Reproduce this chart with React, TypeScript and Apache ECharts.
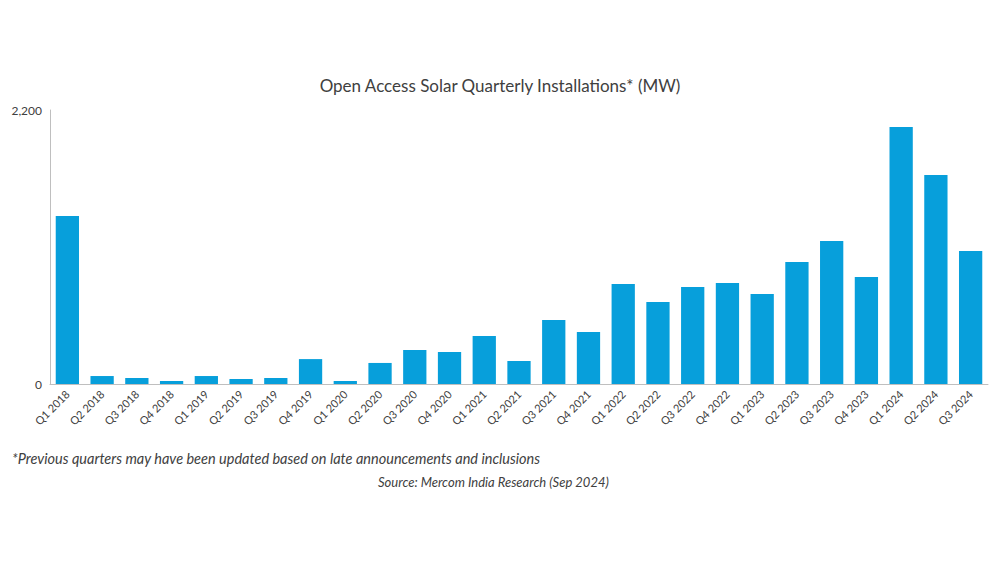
import React, { useEffect, useRef } from "react";
import * as echarts from "echarts";

const categories = ["Q1 2018","Q2 2018","Q3 2018","Q4 2018","Q1 2019","Q2 2019","Q3 2019","Q4 2019","Q1 2020","Q2 2020","Q3 2020","Q4 2020","Q1 2021","Q2 2021","Q3 2021","Q4 2021","Q1 2022","Q2 2022","Q3 2022","Q4 2022","Q1 2023","Q2 2023","Q3 2023","Q4 2023","Q1 2024","Q2 2024","Q3 2024"];
const values = [1349,64,48,24,64,40,48,200,24,169,273,257,385,185,514,418,803,658,779,811,723,980,1148,859,2064,1678,1068];
const title = "Open Access Solar Quarterly Installations* (MW)";
const footnote = "*Previous quarters may have been updated based on late announcements and inclusions";
const source = "Source: Mercom India Research (Sep 2024)";

export default function App() {
  const ref = useRef<HTMLDivElement>(null);
  useEffect(() => {
    const chart = echarts.init(ref.current!, null, { renderer: "svg" });
    const font = "Lato, 'Open Sans', sans-serif";
    chart.setOption({
      animation: false,
      backgroundColor: "#fff",
      title: { text: title, left: "center", top: 72, textStyle: { fontFamily: font, fontSize: 17, fontWeight: "normal", color: "#404040" } },
      grid: { left: 50, right: 12, top: 110, bottom: 179 },
      xAxis: {
        type: "category", data: categories,
        axisLine: { lineStyle: { color: "#bfbfbf" } }, axisTick: { show: false },
        axisLabel: { rotate: 45, color: "#404040", fontFamily: font, fontSize: 11, interval: 0, margin: 8 },
      },
      yAxis: {
        type: "value", min: 0, max: 2200, interval: 2200,
        splitLine: { show: false },
        axisLine: { show: true, lineStyle: { color: "#bfbfbf" } },
        axisLabel: { color: "#404040", fontFamily: font, fontSize: 12, formatter: (v: number) => v.toLocaleString("en-US") },
      },
      series: [{ type: "bar", data: values, barCategoryGap: "33%", itemStyle: { color: "#079FDB" } }],
      graphic: [
        { type: "text", left: 12, top: 451, style: { text: footnote, fontFamily: font, fontSize: 14.5, fontStyle: "italic", fill: "#404040" } },
        { type: "text", left: 378, top: 475, style: { text: source, fontFamily: font, fontSize: 13, fontStyle: "italic", fill: "#404040" } },
      ],
    });
    return () => chart.dispose();
  }, []);
  return <div ref={ref} style={{ position: "fixed", left: 0, top: 0, width: 1000, height: 563 }} />;
}
